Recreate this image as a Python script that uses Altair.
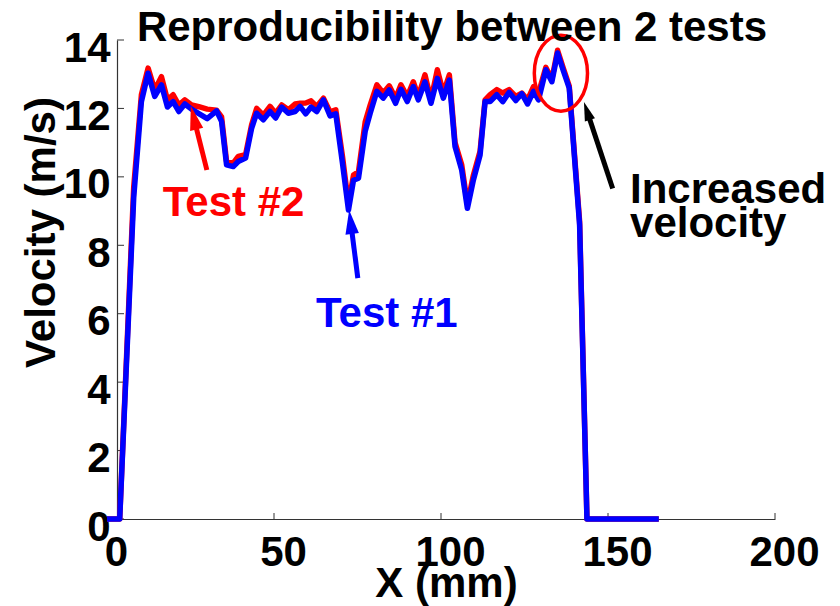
import math
import altair as alt
import pandas as pd

# ---------------- data ----------------
x_mm = [0, 3.8, 8.0, 10.3, 12.3, 14.3, 16.3, 18.1, 19.8, 21.5,
        23.3, 25.3, 27.5, 30.0, 32.8, 34.3, 35.8, 37.8, 39.3, 41.5,
        43.3, 44.8, 46.8, 48.8, 50.5, 52.3, 54.3, 56.3, 57.8, 59.5,
        61.1, 62.8, 64.8, 66.8, 68.5, 70.5, 72.3, 73.8, 75.3, 77.3,
        78.8, 80.8, 82.7, 84.5, 86.4, 88.0, 89.9, 91.7, 93.2, 95.2,
        97.0, 98.9, 100.7, 102.5, 104.2, 106.2, 107.9, 109.7, 111.7, 113.2,
        114.7, 116.7, 118.5, 120.4, 122.4, 124.2, 125.9, 127.7, 129.2, 131.4,
        133.2, 134.9, 136.7, 138.4, 141.5, 143.7, 165.2]

test1 = [0, 0, 9.4, 12.2, 13.03, 12.35, 12.69, 12.04, 12.2, 11.91,
         12.13, 11.98, 11.85, 11.7, 11.93, 11.62, 10.35, 10.3, 10.45, 10.55,
         11.42, 11.86, 11.67, 11.91, 11.72, 12.04, 11.86, 11.91, 12.06, 11.84,
         12.04, 11.91, 12.25, 11.78, 11.84, 10.4, 9.03, 9.9, 9.96, 11.33,
         11.86, 12.5, 12.3, 12.54, 12.15, 12.56, 12.2, 12.64, 12.25, 12.78,
         12.15, 12.88, 12.3, 12.83, 10.89, 10.2, 9.08, 9.91, 10.64, 12.2,
         12.2, 12.4, 12.2, 12.47, 12.23, 12.43, 12.13, 12.5, 12.25, 13.13,
         12.78, 13.62, 13.08, 12.59, 8.6, 0, 0]

test2 = [0, 0, 9.7, 12.4, 13.18, 12.54, 12.93, 12.25, 12.4, 12.1,
         12.25, 12.1, 12.05, 11.98, 11.95, 11.75, 10.45, 10.4, 10.6, 10.65,
         11.52, 12.0, 11.8, 12.06, 11.86, 12.1, 11.96, 12.13, 12.15, 12.16,
         12.22, 12.06, 12.3, 11.9, 11.96, 10.6, 9.2, 10.05, 10.15, 11.6,
         12.1, 12.69, 12.45, 12.66, 12.3, 12.69, 12.35, 12.78, 12.35, 12.98,
         12.25, 13.13, 12.45, 12.98, 11.0, 10.35, 9.2, 10.05, 10.75, 12.25,
         12.4, 12.55, 12.45, 12.55, 12.35, 12.45, 12.25, 12.64, 12.45, 13.2,
         12.85, 13.7, 13.15, 12.65, 8.7, 0, 0]

x_ticks = [0, 50, 100, 150, 200]
y_ticks = [0, 2, 4, 6, 8, 10, 12, 14]

title_text = "Reproducibility between 2 tests"

# annotation texts (data coordinates)
label_text = ["Test #2", "Test #1"]
label_x = [37.9, 83.8]
label_y = [8.85, 5.62]
label_color = ["#ff0000", "#0000ff"]

note_text = ["Increased", "velocity"]
note_x = [156.6, 156.6]
note_y = [9.23, 8.25]

# arrows: tail -> tip (data coordinates)
arrow_tail_x = [29.9, 75.1, 151.4]
arrow_tail_y = [10.2, 7.04, 9.66]
arrow_tip_x = [25.1, 72.5, 142.8]
arrow_tip_y = [12.07, 9.03, 12.19]
arrow_color = ["#ff0000", "#0000ff", "#000000"]
arrow_head = [900, 900, 560]

circle_x = [135.9]
circle_y = [13.03]

# ---------------- layout ----------------
W, H = 668, 479
XMAX, YMAX = 200, 14
FONT = "Liberation Sans"
PXX, PXY = W / XMAX, H / YMAX

xscale = alt.Scale(domain=[0, XMAX], nice=False, zero=False)
yscale = alt.Scale(domain=[0, YMAX], nice=False)

xaxis = alt.Axis(values=x_ticks, format="d", grid=False, ticks=False, tickSize=0,
                 domainColor="#333333", domainWidth=1.2,
                 labelFont=FONT, labelFontSize=42, labelFontWeight="bold", labelColor="black",
                 labelBaseline="alphabetic", labelPadding=46, labelOffset=9,
                 labelFlush=False, labelOverlap=False,
                 title="X (mm)", titleFont=FONT, titleFontSize=42, titleFontWeight="bold",
                 titleColor="black", titleBaseline="alphabetic", titleAlign="center",
                 titleX=339, titleY=77)

yaxis = alt.Axis(values=y_ticks, format="d", grid=False, ticks=False, tickSize=0,
                 offset=-10, domainColor="#333333", domainWidth=1.2,
                 labelFont=FONT, labelFontSize=42, labelFontWeight="bold", labelColor="black",
                 labelBaseline="middle", labelPadding=7, labelOffset=8,
                 labelFlush=False, labelOverlap=False,
                 title="Velocity (m/s)", titleFont=FONT, titleFontSize=42, titleFontWeight="bold",
                 titleColor="black", titleBaseline="alphabetic", titleAlign="center",
                 titleAngle=270, titleX=-63, titleY=192)


def X(f):
    return alt.X(f"{f}:Q", scale=xscale, axis=xaxis)


def Y(f):
    return alt.Y(f"{f}:Q", scale=yscale, axis=yaxis)


line_df = pd.DataFrame({"x": x_mm, "t1": test1, "t2": test2})

red_line = alt.Chart(line_df).mark_line(color="#ff0000", strokeWidth=5.5, strokeJoin="round").encode(
    x=X("x"), y=Y("t2"))
blue_line = alt.Chart(line_df).mark_line(color="#0000ff", strokeWidth=5.5, strokeJoin="round").encode(
    x=X("x"), y=Y("t1"))

# inward tick marks
xt = alt.Chart(pd.DataFrame({"x": x_ticks[1:]})).mark_rule(color="#333333", strokeWidth=1).encode(
    x=X("x"), y=alt.value(H), y2=alt.value(H - 6))
yt = alt.Chart(pd.DataFrame({"y": y_ticks})).mark_rule(color="#333333", strokeWidth=1).encode(
    y=Y("y"), x=alt.value(10), x2=alt.value(17))

# arrows
rows = []
for tx, ty, hx, hy, c, s in zip(arrow_tail_x, arrow_tail_y, arrow_tip_x, arrow_tip_y, arrow_color, arrow_head):
    dxp = (hx - tx) * PXX
    dyp = -(hy - ty) * PXY
    L = math.hypot(dxp, dyp)
    r = math.sqrt(s) / 2
    cx = hx - dxp / L * r / PXX
    cy = hy + dyp / L * r / PXY
    ang = math.degrees(math.atan2(dxp, -dyp)) % 360
    rows.append({"x": tx, "y": ty, "x2": cx, "y2": cy, "hx": cx, "hy": cy,
                 "ang": ang, "size": s, "color": c})
arrow_df = pd.DataFrame(rows)

shafts = alt.Chart(arrow_df).mark_rule(strokeWidth=5).encode(
    x=X("x"), y=Y("y"), x2="x2:Q", y2="y2:Q", color=alt.Color("color:N", scale=None))
heads = alt.Chart(arrow_df).mark_point(
    shape="M0,-1L0.45,0.6L-0.45,0.6Z", filled=True, opacity=1, strokeWidth=0).encode(
    x=X("hx"), y=Y("hy"), angle=alt.Angle("ang:Q", scale=None),
    size=alt.Size("size:Q", scale=None), color=alt.Color("color:N", scale=None))

ellipse = alt.Chart(pd.DataFrame({"x": circle_x, "y": circle_y})).mark_point(
    shape="M-0.7,0A0.7,1,0,1,1,0.7,0A0.7,1,0,1,1,-0.7,0Z",
    filled=False, color="#ff0000", strokeWidth=3.5, opacity=1, size=5776).encode(
    x=X("x"), y=Y("y"))

labels = alt.Chart(pd.DataFrame({"x": label_x, "y": label_y, "t": label_text, "c": label_color})).mark_text(
    font=FONT, fontSize=42, fontWeight="bold", align="center", baseline="alphabetic").encode(
    x=X("x"), y=Y("y"), text="t:N", color=alt.Color("c:N", scale=None))

notes = alt.Chart(pd.DataFrame({"x": note_x, "y": note_y, "t": note_text})).mark_text(
    font=FONT, fontSize=42, fontWeight="bold", align="left", baseline="alphabetic", color="black").encode(
    x=X("x"), y=Y("y"), text="t:N")

# chart title, set as text just above the plot area
title = alt.Chart(pd.DataFrame({"t": [title_text]})).mark_text(
    font=FONT, fontSize=42, fontWeight="bold", align="center", baseline="alphabetic", color="black").encode(
    x=alt.value(W / 2 + 11), y=alt.value(1), text="t:N")

chart = alt.layer(xt, yt, red_line, blue_line, shafts, heads, ellipse, labels, notes, title).properties(
    width=W, height=H,
    autosize=alt.AutoSizeParams(type="none"),
    padding={"left": 107, "top": 40, "right": 65, "bottom": 87},
    background="white",
).configure_view(stroke=None)

chart.save("out.html", embed_options={"renderer": "svg", "actions": False})
